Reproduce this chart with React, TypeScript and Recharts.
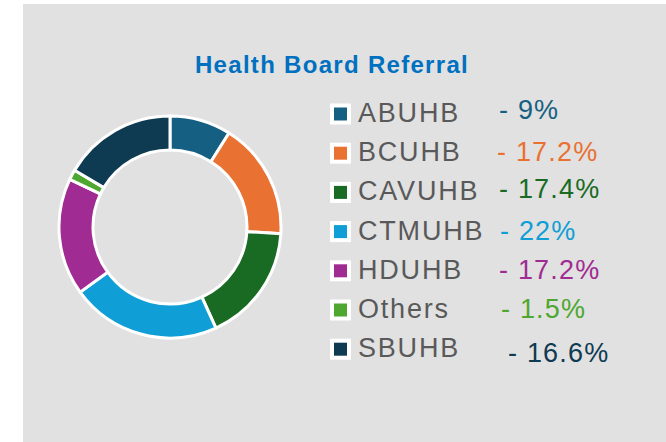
import React from 'react';
import { PieChart, Pie, Cell } from 'recharts';

const categories = ['ABUHB', 'BCUHB', 'CAVUHB', 'CTMUHB', 'HDUHB', 'Others', 'SBUHB'];
const shares = [9, 17.2, 17.4, 22, 17.2, 1.5, 16.6];
const colors = ['#156082', '#E97132', '#196B24', '#0F9ED5', '#A02B93', '#4EA72E', '#0E3A52'];
const title = 'Health Board Referral';

// layout tweaks for the hand-placed percentage labels
const pctDx = [0, -2, 0, 1, 0, 2, 9];
const pctDy = [-3, 0, -2, 0, 0, 0, 5];

const data = categories.map((name, i) => ({ name, value: shares[i] }));

const FONT = '"Liberation Sans", Arial, sans-serif';

export default function App() {
  const rowGap = 39.2;
  return (
    <div style={{ position: 'absolute', left: 0, top: 0, width: 666, height: 442, background: '#ffffff', overflow: 'hidden' }}>
      <div style={{ position: 'absolute', left: 23, top: 4, width: 643, height: 438, background: '#e1e1e1' }} />
      <div style={{ position: 'absolute', left: 0, top: 0 }}>
        <PieChart width={666} height={442} margin={{ top: 0, right: 0, bottom: 0, left: 0 }}>
          <Pie
            data={data}
            dataKey="value"
            nameKey="name"
            cx={170}
            cy={227}
            innerRadius={77}
            outerRadius={111}
            startAngle={90}
            endAngle={-270}
            stroke="#ffffff"
            strokeWidth={3}
            isAnimationActive={false}
          >
            {data.map((d, i) => (
              <Cell key={d.name} fill={colors[i]} />
            ))}
          </Pie>
        </PieChart>
      </div>
      <svg width={666} height={442} style={{ position: 'absolute', left: 0, top: 0, pointerEvents: 'none' }}>
        <text x={332} y={73} textAnchor="middle" fontFamily={FONT} fontWeight={700} fontSize={24} letterSpacing={1.3} fill="#0070C0">
          {title}
        </text>
        {categories.map((name, i) => {
          const cy = 114 + i * rowGap;
          const base = 122 + i * rowGap;
          return (
            <g key={name}>
              <rect x={330} y={cy - 10.5} width={21} height={21} fill="#ffffff" />
              <rect x={334} y={cy - 6.5} width={13} height={13} fill={colors[i]} />
              <text x={358} y={base} fontFamily={FONT} fontSize={27} letterSpacing={1.8} fill="#595959">
                {name}
              </text>
              <text x={499 + pctDx[i]} y={base + pctDy[i]} fontFamily={FONT} fontSize={27} letterSpacing={1.2} fill={colors[i]}>
                {'- ' + shares[i] + '%'}
              </text>
            </g>
          );
        })}
      </svg>
    </div>
  );
}
